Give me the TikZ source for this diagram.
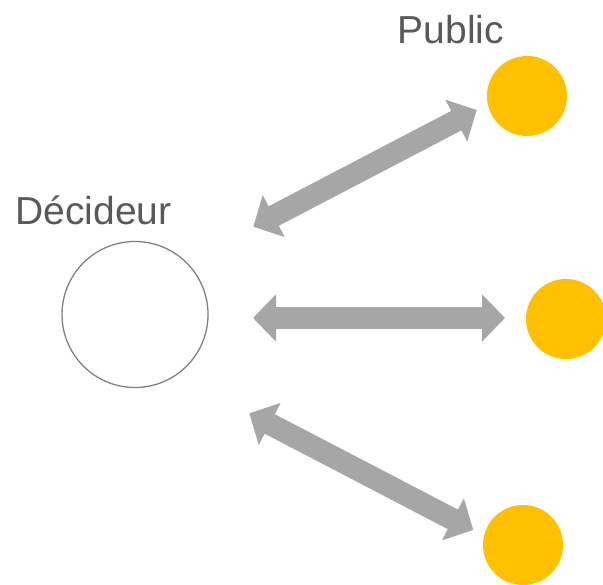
\documentclass[tikz,border=0pt]{standalone}
\usepackage{fontspec}
\setmainfont{Liberation Sans}
\usetikzlibrary{arrows.meta}
\definecolor{txt}{HTML}{595959}
\definecolor{gold}{HTML}{FFC000}
\definecolor{arr}{HTML}{A6A6A6}
\definecolor{ring}{HTML}{808080}
\begin{document}
\begin{tikzpicture}[x=1pt,y=-1pt,
  lbl/.style={text=txt,font=\fontsize{39}{44}\selectfont,inner sep=0pt,anchor=base},
  pub/.style={circle,fill=gold,minimum size=80pt,inner sep=0pt},
  dbl/.style={draw=arr,line width=22pt,{Triangle[length=23pt,width=46pt]}-{Triangle[length=23pt,width=46pt]}}]
\useasboundingbox (0,0) rectangle (603,585);
\node[circle,draw=ring,line width=1.3pt,minimum size=146pt,inner sep=0pt] (dec) at (135,314.5) {};
\node[lbl] (tdec) at (93.5,225) {Décideur};
\node[lbl] (tpub) at (451,44) {Public};
\node[pub] (p1) at (527,96) {};
\node[pub] (p2) at (566,319) {};
\node[pub] (p3) at (523,545) {};
\coordinate (a1s) at (253.3,226.7);
\coordinate (a1e) at (476.7,110);
\coordinate (a2s) at (253,318);
\coordinate (a2e) at (505,318);
\coordinate (a3s) at (249.3,413.3);
\coordinate (a3e) at (473.3,530);
\draw[dbl] (a1s) -- (a1e);
\draw[dbl] (a2s) -- (a2e);
\draw[dbl] (a3s) -- (a3e);
\end{tikzpicture}
\end{document}
